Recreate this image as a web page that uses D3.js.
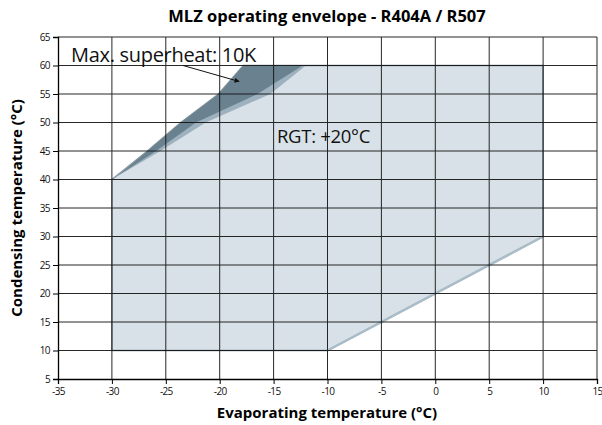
<!DOCTYPE html>
<html>
  <head>
    <meta charset="UTF-8">
    <title>MLZ operating envelope</title>
    <script src="https://d3js.org/d3.v7.min.js"></script>
    <style>
      body { margin: 0; background: #fff; }
      text { font-family: "Open Sans", sans-serif; }
    </style>
  </head>
  <body>
    <div id="chart"></div>
    <script>
      // axis ticks
      var xTicks = [-35, -30, -25, -20, -15, -10, -5, 0, 5, 10, 15];
      var yTicks = [5, 10, 15, 20, 25, 30, 35, 40, 45, 50, 55, 60, 65];

      // envelope (evap, cond)
      var envelope = [[-30, 10], [-30, 40], [-26.7, 45], [-23.6, 50], [-20.1, 55], [-17.8, 60],
                      [10, 60], [10, 30], [-10, 10]];
      // max superheat 10K band
      var bandOuter = [[-30, 40], [-26.7, 45], [-23.6, 50], [-20.1, 55], [-17.8, 60], [-12, 60],
                       [-15.3, 55], [-21.3, 50], [-25.5, 45]];
      var bandInner = [[-29.5, 40.6], [-26.7, 45], [-23.6, 50], [-20.1, 55], [-17.8, 60], [-12.3, 60],
                       [-16.5, 55], [-22.2, 50], [-25.9, 45]];
      var slopeEdge = [[-10, 10], [10, 30]];
      var arrow = [[-23.4, 60], [-18.2, 57.2]];

      var W = 602, H = 425;
      var m = {left: 58, right: 5, top: 37, bottom: 46};

      var svg = d3.select("#chart").append("svg").attr("width", W).attr("height", H);

      var x = d3.scaleLinear().domain([-35, 15]).range([m.left, W - m.right]);
      var y = d3.scaleLinear().domain([5, 65]).range([H - m.bottom, m.top]);
      var line = d3.line().x(function(d) { return x(d[0]); }).y(function(d) { return y(d[1]); });

      // envelope fill
      svg.append("path").attr("d", line(envelope) + "Z")
        .attr("fill", "#d8e1e7").attr("stroke", "#7d8b94").attr("stroke-width", 1.5);
      svg.append("path").attr("d", line(bandOuter) + "Z").attr("fill", "#9db1be");
      svg.append("path").attr("d", line(bandInner) + "Z").attr("fill", "#6a8290");
      svg.append("path").attr("d", line(slopeEdge))
        .attr("stroke", "#a9bcc8").attr("stroke-width", 2.5).attr("fill", "none");

      // grid
      var grid = svg.append("g").attr("stroke", "#111").attr("stroke-width", 1).attr("opacity", 0.9);
      grid.selectAll(".gx").data(xTicks.slice(1)).enter().append("line")
        .attr("x1", function(d) { return x(d); }).attr("x2", function(d) { return x(d); })
        .attr("y1", y(5)).attr("y2", y(65));
      grid.selectAll(".gy").data(yTicks.slice(1)).enter().append("line")
        .attr("x1", x(-35)).attr("x2", x(15))
        .attr("y1", function(d) { return y(d); }).attr("y2", function(d) { return y(d); });

      // axes
      var fmt = function(d) { return String(d); };
      var xAxis = svg.append("g").attr("transform", "translate(0," + y(5) + ")")
        .call(d3.axisBottom(x).tickValues(xTicks).tickFormat(fmt).tickSize(5).tickPadding(4));
      var yAxis = svg.append("g").attr("transform", "translate(" + x(-35) + ",0)")
        .call(d3.axisLeft(y).tickValues(yTicks).tickFormat(fmt).tickSize(5).tickPadding(3));
      [xAxis, yAxis].forEach(function(a) {
        a.select(".domain").attr("stroke", "#000").attr("stroke-width", 1.3);
        a.selectAll(".tick line").attr("stroke", "#000");
        a.selectAll("text").attr("font-family", "Open Sans").attr("font-size", 10)
          .attr("letter-spacing", -0.6).attr("fill", "#111");
      });

      // arrow
      svg.append("defs").append("marker").attr("id", "ah")
        .attr("viewBox", "0 0 10 10").attr("refX", 9).attr("refY", 5)
        .attr("markerWidth", 7).attr("markerHeight", 5).attr("orient", "auto")
        .append("path").attr("d", "M0,0L10,5L0,10Z").attr("fill", "#111");
      svg.append("path").attr("d", line(arrow))
        .attr("stroke", "#111").attr("stroke-width", 1).attr("fill", "none").attr("marker-end", "url(#ah)");

      // labels
      svg.append("text").attr("x", 71).attr("y", 62).attr("font-size", 20).attr("letter-spacing", -0.3)
        .attr("fill", "#111").text("Max. superheat: 10K");
      svg.append("text").attr("x", 277).attr("y", 143).attr("font-size", 18.5).attr("letter-spacing", -0.3)
        .attr("fill", "#111").text("RGT: +20°C");

      svg.append("text").attr("x", 327).attr("y", 22).attr("text-anchor", "middle")
        .attr("font-size", 16.5).attr("font-weight", "bold").text("MLZ operating envelope - R404A / R507");
      svg.append("text").attr("x", 327).attr("y", 418).attr("text-anchor", "middle")
        .attr("font-size", 15).attr("font-weight", "bold").text("Evaporating temperature (°C)");
      svg.append("text").attr("transform", "translate(22," + ((y(5) + y(65)) / 2) + ") rotate(-90)")
        .attr("text-anchor", "middle").attr("font-size", 15).attr("font-weight", "bold")
        .text("Condensing temperature (°C)");
    </script>
  </body>
</html>
